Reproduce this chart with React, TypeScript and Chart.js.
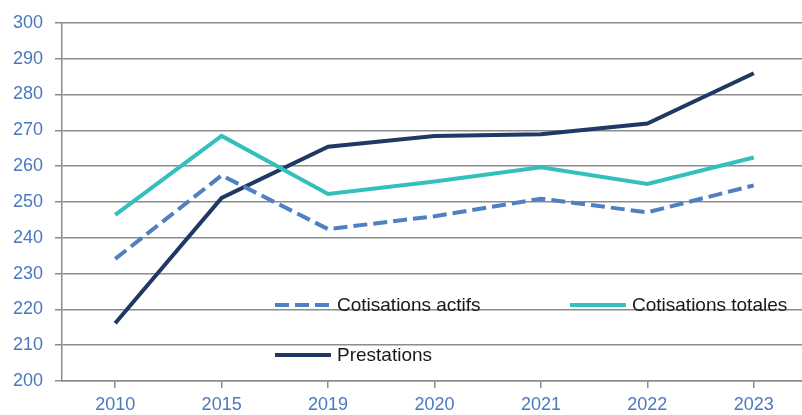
import React, { useEffect, useRef } from "react";
import { Chart, registerables } from "chart.js";

Chart.register(...registerables);

const categories = ["2010", "2015", "2019", "2020", "2021", "2022", "2023"];
const cotisationsActifs = [234.1, 257.4, 242.4, 246.0, 250.9, 247.1, 254.6];
const cotisationsTotales = [246.4, 268.4, 252.2, 255.7, 259.7, 255.0, 262.4];
const prestations = [216.1, 251.1, 265.4, 268.4, 268.9, 271.9, 285.9];
const seriesNames = ["Cotisations actifs", "Cotisations totales", "Prestations"];

const GRID = "#8c8c8c";
const TICK = "#4a78c0";
const FONT = "'Liberation Sans', Arial, sans-serif";

const legendPlugin = {
  id: "insideLegend",
  afterDatasetsDraw(chart: any) {
    const ctx = chart.ctx;
    const items = [
      { i: 0, x: 275, y: 305 },
      { i: 1, x: 570, y: 305 },
      { i: 2, x: 275, y: 355 },
    ];
    ctx.save();
    items.forEach(({ i, x, y }) => {
      const ds = chart.data.datasets[i];
      ctx.beginPath();
      ctx.strokeStyle = ds.borderColor;
      ctx.lineWidth = ds.borderWidth;
      ctx.setLineDash(ds.borderDash || []);
      ctx.lineCap = "butt";
      ctx.moveTo(x, y);
      ctx.lineTo(x + 56, y);
      ctx.stroke();
      ctx.setLineDash([]);
      ctx.fillStyle = "#1a1a1a";
      ctx.font = "19px " + FONT;
      ctx.textBaseline = "middle";
      ctx.textAlign = "left";
      ctx.fillText(ds.label, x + 62, y + 1);
    });
    ctx.restore();
  },
};

export default function App() {
  const ref = useRef<HTMLCanvasElement | null>(null);
  useEffect(() => {
    if (!ref.current) return;
    const chart = new Chart(ref.current, {
      type: "line",
      data: {
        labels: categories,
        datasets: [
          {
            label: seriesNames[0],
            data: cotisationsActifs,
            borderColor: "#4f81c2",
            borderWidth: 4,
            borderDash: [14, 6],
            pointRadius: 0,
            tension: 0,
          },
          {
            label: seriesNames[1],
            data: cotisationsTotales,
            borderColor: "#33bfbb",
            borderWidth: 4,
            pointRadius: 0,
            tension: 0,
          },
          {
            label: seriesNames[2],
            data: prestations,
            borderColor: "#1f3864",
            borderWidth: 4,
            pointRadius: 0,
            tension: 0,
          },
        ],
      },
      options: {
        responsive: false,
        devicePixelRatio: 1,
        animation: false,
        layout: { padding: { top: 21, right: 1, left: 0, bottom: 0 } },
        plugins: {
          legend: { display: false },
          tooltip: { enabled: false },
        },
        scales: {
          x: {
            offset: true,
            grid: {
              drawOnChartArea: false,
              drawTicks: true,
              tickLength: 7,
              color: GRID,
              lineWidth: 1.5,
            },
            border: { display: true, color: GRID, width: 1.5 },
            ticks: {
              color: TICK,
              font: { family: FONT, size: 18 },
              padding: 6,
              maxRotation: 0,
            },
            afterFit(scale: any) {
              scale.height = 34;
            },
          },
          y: {
            min: 200,
            max: 300,
            ticks: {
              stepSize: 10,
              color: TICK,
              font: { family: FONT, size: 18 },
              padding: 12,
            },
            grid: { color: GRID, lineWidth: 1.5, tickLength: 7 },
            border: { display: true, color: GRID, width: 1.5 },
            afterFit(scale: any) {
              scale.width = 62;
            },
          },
        },
      },
      plugins: [legendPlugin],
    });
    return () => chart.destroy();
  }, []);
  return (
    <div
      style={{
        position: "fixed",
        left: 0,
        top: 0,
        width: 802,
        height: 415,
        overflow: "hidden",
        background: "#ffffff",
      }}
    >
      <canvas ref={ref} width={808} height={415} style={{ display: "block" }} />
    </div>
  );
}
